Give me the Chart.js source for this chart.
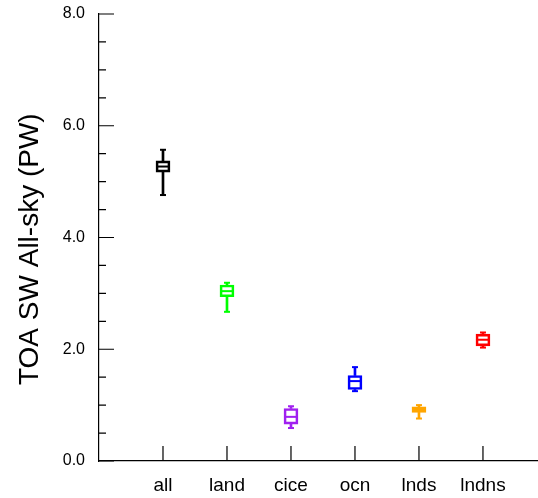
<!DOCTYPE html>
<html lang="en">
<head>
    <meta charset="UTF-8">
    <title>TOA SW All-sky</title>
    <script src="https://cdn.jsdelivr.net/npm/chart.js"></script>
    <style>
        body { margin: 0; background: #fff; }
    </style>
</head>
<body>
    <canvas id="boxChart" width="538" height="498"></canvas>
    <script>
        // box plot values (PW)
        const categories = ['all', 'land', 'cice', 'ocn', 'lnds', 'lndns'];
        const mins    = [4.76, 2.67, 0.59, 1.25, 0.76, 2.03];
        const q1s     = [5.17, 2.94, 0.66, 1.28, 0.87, 2.06];
        const medians = [5.27, 3.04, 0.79, 1.43, 0.92, 2.17];
        const q3s     = [5.37, 3.15, 0.94, 1.53, 0.97, 2.27];
        const maxs    = [5.57, 3.19, 0.98, 1.68, 1.00, 2.30];
        const colors  = ['#000000', '#00ff00', '#a020f0', '#0000ff', '#ffa500', '#ff0000'];
        const yTicks  = [0, 2, 4, 6, 8];

        const FONT = "'Liberation Sans', Arial, sans-serif";

        function pos(i) { return i + 1; }

        // inward tick marks like the original plot
        const innerTicks = {
            id: 'innerTicks',
            afterDraw(chart) {
                const ctx = chart.ctx;
                const x = chart.scales.x;
                const y = chart.scales.y;
                ctx.save();
                ctx.strokeStyle = '#000';
                ctx.lineWidth = 1.2;
                ctx.beginPath();
                for (let v = 0; v <= 8; v += 0.5) {
                    const py = y.getPixelForValue(v);
                    const len = (v % 2 === 0) ? 15 : 7;
                    ctx.moveTo(x.left, py);
                    ctx.lineTo(x.left + len, py);
                }
                categories.forEach((c, i) => {
                    const px = x.getPixelForValue(pos(i));
                    ctx.moveTo(px, y.bottom);
                    ctx.lineTo(px, y.bottom - 15);
                });
                ctx.stroke();
                ctx.restore();
            }
        };

        const datasets = [
            {
                // box q1..q3
                type: 'bar',
                data: categories.map((c, i) => ({ x: pos(i), y: [q1s[i], q3s[i]] })),
                backgroundColor: 'rgba(255,255,255,0)',
                borderColor: colors,
                borderWidth: 2,
                borderSkipped: false,
                barThickness: 14,
                grouped: false
            },
            {
                // upper whisker
                type: 'bar',
                data: categories.map((c, i) => ({ x: pos(i), y: [q3s[i], maxs[i]] })),
                backgroundColor: colors,
                borderWidth: 0,
                barThickness: 2,
                grouped: false
            },
            {
                // lower whisker
                type: 'bar',
                data: categories.map((c, i) => ({ x: pos(i), y: [mins[i], q1s[i]] })),
                backgroundColor: colors,
                borderWidth: 0,
                barThickness: 2,
                grouped: false
            },
            {
                // median
                type: 'scatter',
                data: categories.map((c, i) => ({ x: pos(i), y: medians[i] })),
                pointStyle: 'line',
                radius: 7,
                borderColor: colors,
                borderWidth: 2
            },
            {
                // whisker caps
                type: 'scatter',
                data: categories.map((c, i) => ({ x: pos(i), y: maxs[i] }))
                    .concat(categories.map((c, i) => ({ x: pos(i), y: mins[i] }))),
                pointStyle: 'line',
                radius: 3,
                borderColor: colors.concat(colors),
                borderWidth: 2
            }
        ];

        const config = {
            type: 'bar',
            data: { datasets: datasets },
            options: {
                responsive: false,
                animation: false,
                events: [],
                layout: { autoPadding: false, padding: { top: 14, right: 0, left: 0, bottom: 0 } },
                plugins: { legend: { display: false }, tooltip: { enabled: false } },
                scales: {
                    x: {
                        type: 'linear',
                        min: 0,
                        max: 6.86,
                        offset: false,
                        grid: { display: false, drawTicks: false },
                        border: { display: true, color: '#000', width: 1.2 },
                        afterBuildTicks(scale) {
                            scale.ticks = categories.map((c, i) => ({ value: pos(i) }));
                        },
                        afterFit(scale) {
                            scale.height = 37;
                            scale.paddingLeft = 0;
                            scale.paddingRight = 0;
                        },
                        ticks: {
                            autoSkip: false,
                            maxRotation: 0,
                            padding: 13,
                            color: '#000',
                            font: { family: FONT, size: 19 },
                            callback: (v) => categories[v - 1] || ''
                        }
                    },
                    y: {
                        min: 0,
                        max: 8,
                        grid: { display: false, drawTicks: false },
                        border: { display: true, color: '#000', width: 1.2 },
                        afterBuildTicks(scale) {
                            scale.ticks = yTicks.map(v => ({ value: v }));
                        },
                        afterFit(scale) {
                            scale.width = 99;
                            scale.paddingTop = 0;
                            scale.paddingBottom = 0;
                        },
                        ticks: {
                            padding: 14,
                            color: '#000',
                            font: { family: FONT, size: 16 },
                            callback: (v) => v.toFixed(1)
                        },
                        title: {
                            display: true,
                            // trailing spaces push the text a little lower, as in the original
                            text: 'TOA SW All-sky (PW)   ',
                            color: '#000',
                            font: { family: FONT, size: 28 },
                            padding: { top: 13, bottom: 0 }
                        }
                    }
                }
            },
            plugins: [innerTicks]
        };

        const ctx = document.getElementById('boxChart').getContext('2d');
        new Chart(ctx, config);
    </script>
</body>
</html>
